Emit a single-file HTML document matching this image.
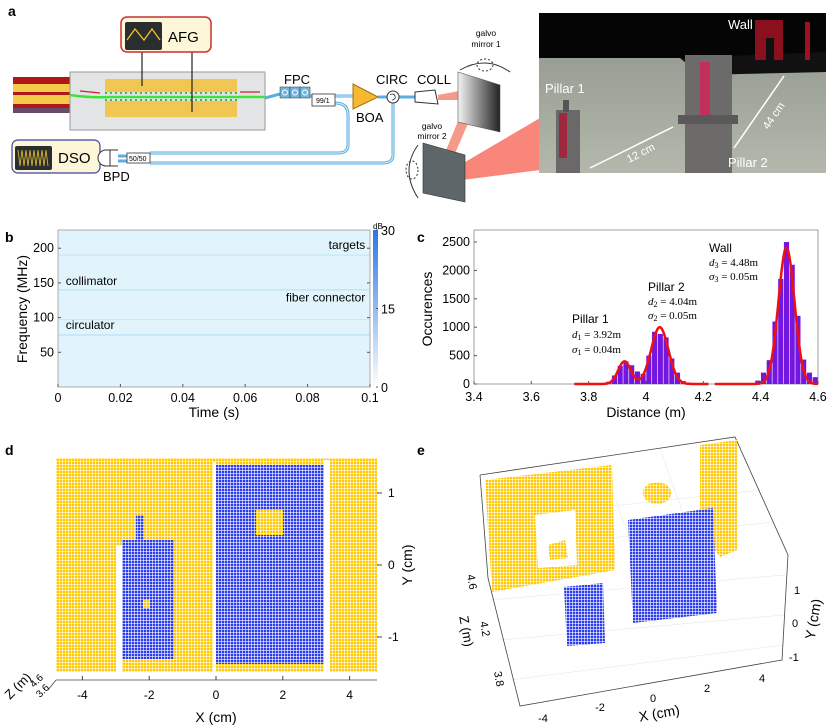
<!DOCTYPE html>
<html><head><meta charset="utf-8"><style>
html,body{margin:0;padding:0;background:#fff}
svg{display:block;font-family:"Liberation Sans",sans-serif}
</style></head><body>
<svg id="fig" width="830" height="727" viewBox="0 0 830 727" xmlns="http://www.w3.org/2000/svg">
<defs>
<linearGradient id="cbar" x1="0" y1="1" x2="0" y2="0"><stop offset="0" stop-color="#ffffff"/><stop offset="1" stop-color="#2a78e4"/></linearGradient>
<linearGradient id="mir1" x1="0" y1="0" x2="1" y2="0"><stop offset="0" stop-color="#f4f4f4"/><stop offset="1" stop-color="#222"/></linearGradient>
<linearGradient id="floor" x1="0" y1="0" x2="0" y2="1"><stop offset="0" stop-color="#8d948a"/><stop offset="1" stop-color="#b4b8ac"/></linearGradient>
<pattern id="ydots" width="3" height="3" patternUnits="userSpaceOnUse"><rect width="3" height="3" fill="#fff"/><rect width="2.4" height="2.4" fill="#ffc800"/></pattern>
<pattern id="bdots" width="3" height="3" patternUnits="userSpaceOnUse"><rect width="3" height="3" fill="#fff"/><rect width="2.4" height="2.4" fill="#2c3cf0"/></pattern>
</defs>

<text x="8" y="16" font-size="14" font-weight="bold">a</text>
<text x="5" y="242" font-size="14" font-weight="bold">b</text>
<text x="417" y="242" font-size="14" font-weight="bold">c</text>
<text x="5" y="455" font-size="14" font-weight="bold">d</text>
<text x="417" y="455" font-size="14" font-weight="bold">e</text>

<g>
  <polygon points="438,95 475,88 476,100 438,100" fill="#f59a8a"/>
  <polygon points="470,92 480,96 450,165 442,160" fill="#f59a8a"/>
  <polygon points="460,165 540,118 540,170 462,180" fill="#f8877a"/>
  <rect x="13" y="77" width="58" height="36" fill="#b01818"/>
  <rect x="13" y="84" width="58" height="8" fill="#f5c94a"/>
  <rect x="13" y="95" width="58" height="9" fill="#f5c94a"/>
  <rect x="13" y="108" width="58" height="5" fill="#6a4a6a"/>
  <rect x="70" y="72" width="195" height="58" fill="#e2e4e6" stroke="#999"/>
  <rect x="105" y="79" width="132" height="13" fill="#f2c652"/>
  <rect x="105" y="101" width="132" height="16" fill="#f2c652"/>
  <line x1="105" y1="93" x2="237" y2="93" stroke="#4caf50" stroke-width="2" stroke-dasharray="2,3"/>
  <line x1="105" y1="100" x2="237" y2="100" stroke="#4caf50" stroke-width="2" stroke-dasharray="2,3"/>
  <path d="M70 95 Q90 98 110 97 L265 97" stroke="#3ee23e" stroke-width="2.5" fill="none"/>
  <line x1="80" y1="91" x2="100" y2="93" stroke="#c22" stroke-width="1.2"/>
  <line x1="240" y1="92" x2="260" y2="92" stroke="#c22" stroke-width="1.2"/>
  <line x1="142" y1="52" x2="142" y2="86" stroke="#222" stroke-width="1.2"/>
  <line x1="192" y1="52" x2="192" y2="112" stroke="#222" stroke-width="1.2"/>
  <rect x="121" y="17" width="90" height="35" rx="6" fill="#fdf6d8" stroke="#c83030" stroke-width="1.5"/>
  <rect x="125" y="22" width="37" height="28" rx="2" fill="#2a2e2e"/>
  <polyline points="127,40 135,29 144,40 152,29 160,40" stroke="#f0c030" stroke-width="1.3" fill="none"/>
  <text x="168" y="42" font-size="15">AFG</text>
  <rect x="12" y="140" width="88" height="33" rx="6" fill="#fdf6d8" stroke="#4040a0" stroke-width="1.2"/>
  <rect x="15" y="146" width="37" height="24" rx="2" fill="#2a2e2e"/>
  <path d="M18 150 L20 166 L22 150 L24 166 L26 150 L28 166 L30 150 L32 166 L34 150 L36 166 L38 150 L40 166 L42 150 L44 166 L46 150 L48 166" stroke="#e8c030" stroke-width="0.8" fill="none"/>
  <text x="58" y="163" font-size="15">DSO</text>
  <g stroke="#5aaee0" stroke-width="3" fill="none">
    <path d="M265 98 L280 94"/>
    <path d="M310 96 L353 96"/>
    <path d="M378 97 L387 97"/><path d="M399 97 L415 97"/>
    <path d="M335 103 Q348 103 348 115 L348 145 Q348 153 338 153 L150 153"/>
    <path d="M393 103 L393 155 Q393 163 383 163 L150 163"/>
    <path d="M118 156 L127 156"/><path d="M118 161 L127 161"/>
  </g>
  <g stroke="#dff1fb" stroke-width="1" fill="none">
    <path d="M310 96 L353 96"/><path d="M335 103 Q348 103 348 115 L348 145 Q348 153 338 153 L150 153"/>
    <path d="M393 103 L393 155 Q393 163 383 163 L150 163"/>
  </g>
  <g>
    <rect x="280" y="87" width="10" height="11" fill="#6fb7e2" stroke="#333" stroke-width="0.5"/>
    <rect x="290" y="87" width="10" height="11" fill="#6fb7e2" stroke="#333" stroke-width="0.5"/>
    <rect x="300" y="87" width="10" height="11" fill="#6fb7e2" stroke="#333" stroke-width="0.5"/>
    <circle cx="285" cy="92.5" r="2.5" fill="none" stroke="#fff"/><circle cx="295" cy="92.5" r="2.5" fill="none" stroke="#fff"/><circle cx="305" cy="92.5" r="2.5" fill="none" stroke="#fff"/>
  </g>
  <text x="284" y="84" font-size="13">FPC</text>
  <rect x="312" y="94" width="23" height="12" fill="#fff" stroke="#333" stroke-width="0.8"/>
  <text x="316" y="103" font-size="7">99/1</text>
  <polygon points="353,84 378,97 353,109" fill="#f5b830" stroke="#a07010"/>
  <text x="356" y="122" font-size="13">BOA</text>
  <circle cx="393" cy="97" r="6" fill="#fff" stroke="#333"/>
  <path d="M390 95 A3 3 0 1 1 392 100" stroke="#333" fill="none" stroke-width="0.8"/>
  <text x="376" y="84" font-size="13">CIRC</text>
  <polygon points="415,92 435,90 438,104 415,102" fill="#fff" stroke="#333"/>
  <text x="417" y="84" font-size="13">COLL</text>
  <rect x="127" y="153" width="23" height="10" fill="#fff" stroke="#333" stroke-width="0.8"/>
  <text x="129" y="161" font-size="7">50/50</text>
  <path d="M110 150 L106 150 A8 8 0 0 0 106 166 L110 166 Z" fill="#fff" stroke="#333"/>
  <line x1="110" y1="150" x2="118" y2="150" stroke="#333"/><line x1="110" y1="166" x2="118" y2="166" stroke="#333"/>
  <text x="103" y="181" font-size="13">BPD</text>
  <polygon points="458,72 500,85 500,132 458,122" fill="url(#mir1)" stroke="#555" stroke-width="0.6"/>
  <text x="486" y="36" font-size="8.5" text-anchor="middle">galvo</text>
  <text x="486" y="47" font-size="8.5" text-anchor="middle">mirror 1</text>
  <path d="M460 70 Q486 55 510 72" stroke="#333" fill="none"/>
  <ellipse cx="485" cy="65" rx="8" ry="6" fill="none" stroke="#333" stroke-dasharray="2,2"/>
  <polygon points="423,143 465,155 465,202 423,193" fill="#5d6668" stroke="#333" stroke-width="0.6"/>
  <text x="432" y="129" font-size="8.5" text-anchor="middle">galvo</text>
  <text x="432" y="139" font-size="8.5" text-anchor="middle">mirror 2</text>
  <path d="M418 145 Q400 170 418 198" stroke="#333" fill="none"/>
  <ellipse cx="412" cy="170" rx="6" ry="9" fill="none" stroke="#333" stroke-dasharray="2,2"/>
  <g>
    <rect x="539" y="13" width="287" height="160" fill="url(#floor)"/>
    <rect x="539" y="13" width="287" height="45" fill="#050505"/>
    <polygon points="680,58 826,52 826,72 700,75" fill="#111"/>
    <rect x="755" y="20" width="28" height="40" fill="#8a1020"/><rect x="766" y="38" width="8" height="22" fill="#111"/>
    <rect x="805" y="22" width="5" height="38" fill="#a01020"/>
    <rect x="685" y="55" width="47" height="118" fill="#6d6b6a"/>
    <rect x="700" y="62" width="10" height="55" fill="#c0305a"/>
    <rect x="678" y="115" width="60" height="9" fill="#5a5858"/>
    <rect x="556" y="110" width="24" height="63" fill="#6a6868"/>
    <rect x="559" y="113" width="8" height="45" fill="#a0283c"/>
    <rect x="563" y="100" width="6" height="12" fill="#555"/>
  </g>
  <text x="545" y="93" font-size="13" fill="#fff">Pillar 1</text>
  <text x="728" y="29" font-size="13" fill="#fff">Wall</text>
  <text x="728" y="167" font-size="13" fill="#fff">Pillar 2</text>
  <line x1="590" y1="168" x2="673" y2="127" stroke="#fff" stroke-width="1.5"/>
  <line x1="734" y1="148" x2="784" y2="76" stroke="#fff" stroke-width="1.5"/>
  <text x="0" y="0" font-size="11" fill="#fff" transform="translate(629,163) rotate(-27)">12 cm</text>
  <text x="0" y="0" font-size="11" fill="#fff" transform="translate(768,130) rotate(-55)">44 cm</text>
</g>

<g id="panelB">
  <rect x="58" y="230" width="312" height="157" fill="#e2f4fb" stroke="#999" stroke-width="0.8"/>
  <rect x="373" y="230" width="5" height="157" fill="url(#cbar)"/>
  <text x="373" y="229" font-size="8">dB</text>
  <text x="0" y="0" font-size="14" text-anchor="middle" transform="translate(27,309) rotate(-90)">Frequency (MHz)</text>
  <text x="214" y="417" font-size="14" text-anchor="middle">Time (s)</text>
</g>

<g id="panelC">
  <rect x="474" y="230" width="344" height="154" fill="#fff" stroke="#888" stroke-width="0.8"/>
  <text x="0" y="0" font-size="14" text-anchor="middle" transform="translate(432,309) rotate(-90)">Occurences</text>
  <text x="646" y="417" font-size="14" text-anchor="middle">Distance (m)</text>
  <g font-size="12">
    <text x="572" y="323">Pillar 1</text>
    <text x="572" y="338" font-family="Liberation Serif,serif" font-size="11"><tspan font-style="italic">d</tspan><tspan font-size="8" dy="2">1</tspan><tspan dy="-2"> = 3.92m</tspan></text>
    <text x="572" y="353" font-family="Liberation Serif,serif" font-size="11"><tspan font-style="italic">σ</tspan><tspan font-size="8" dy="2">1</tspan><tspan dy="-2"> = 0.04m</tspan></text>
    <text x="648" y="291">Pillar 2</text>
    <text x="648" y="305" font-family="Liberation Serif,serif" font-size="11"><tspan font-style="italic">d</tspan><tspan font-size="8" dy="2">2</tspan><tspan dy="-2"> = 4.04m</tspan></text>
    <text x="648" y="319" font-family="Liberation Serif,serif" font-size="11"><tspan font-style="italic">σ</tspan><tspan font-size="8" dy="2">2</tspan><tspan dy="-2"> = 0.05m</tspan></text>
    <text x="709" y="252">Wall</text>
    <text x="709" y="266" font-family="Liberation Serif,serif" font-size="11"><tspan font-style="italic">d</tspan><tspan font-size="8" dy="2">3</tspan><tspan dy="-2"> = 4.48m</tspan></text>
    <text x="709" y="280" font-family="Liberation Serif,serif" font-size="11"><tspan font-style="italic">σ</tspan><tspan font-size="8" dy="2">3</tspan><tspan dy="-2"> = 0.05m</tspan></text>
  </g>
</g>

<g id="panelD">
  <rect x="56" y="458" width="321" height="214" fill="url(#ydots)"/>
  <rect x="116" y="545" width="6" height="127" fill="#fff"/>
  <rect x="122" y="540" width="52" height="119" fill="url(#bdots)"/>
  <rect x="136" y="515" width="8" height="27" fill="url(#bdots)"/>
  <rect x="143" y="600" width="7" height="8" fill="url(#ydots)"/>
  <rect x="213" y="462" width="3" height="210" fill="#fff"/>
  <rect x="216" y="465" width="108" height="199" fill="url(#bdots)"/>
  <rect x="256" y="510" width="27" height="25" fill="url(#ydots)"/>
  <rect x="324" y="460" width="6" height="212" fill="#fff"/>
  <line x1="56" y1="680" x2="377" y2="680" stroke="#444" stroke-width="0.8"/>
  <line x1="56" y1="680" x2="48" y2="690" stroke="#444" stroke-width="0.8"/>
  <text x="0" y="0" font-size="13" transform="translate(10,700) rotate(-45)">Z (m)</text>
  <text x="0" y="0" font-size="10" transform="translate(34,688) rotate(-45)">4.6</text>
  <text x="0" y="0" font-size="10" transform="translate(40,698) rotate(-45)">3.6</text>
  <text x="216" y="722" font-size="14" text-anchor="middle">X (cm)</text>
  <text x="0" y="0" font-size="14" text-anchor="middle" transform="translate(412,565) rotate(-90)">Y (cm)</text>
</g>

<g id="panelE">
  <g stroke="#e4e4e4" stroke-width="0.5">
    <line x1="483" y1="520" x2="760" y2="490"/><line x1="486" y1="550" x2="775" y2="522"/>
    <line x1="540" y1="466" x2="580" y2="572"/><line x1="600" y1="457" x2="640" y2="567"/><line x1="660" y1="448" x2="700" y2="562"/>
    <line x1="490" y1="600" x2="785" y2="575"/><line x1="500" y1="640" x2="784" y2="615"/><line x1="510" y1="680" x2="783" y2="645"/>
  </g>
  <polyline points="480,475 735,437 788,555 782,660 520,706 488,578 480,475" fill="none" stroke="#444" stroke-width="0.8"/>
  <polygon points="485,480 612,465 615,570 492,592" fill="url(#ydots)"/>
  <polygon points="535,515 575,510 577,565 538,568" fill="#fff"/>
  <polygon points="548,545 565,540 568,558 550,560" fill="url(#ydots)"/>
  <polygon points="700,445 737,440 737,550 720,557 700,530" fill="url(#ydots)"/>
  <ellipse cx="657" cy="493" rx="14" ry="11" fill="url(#ydots)"/>
  <polygon points="628,520 713,508 717,613 633,623" fill="url(#bdots)"/>
  <polygon points="564,587 603,583 605,643 567,646" fill="url(#bdots)"/>
  <g font-size="11">
    <text transform="translate(467,575) rotate(80)">4.6</text>
    <text transform="translate(480,622) rotate(80)">4.2</text>
    <text transform="translate(494,672) rotate(80)">3.8</text>
    <text transform="translate(462,632) rotate(80)" font-size="13" text-anchor="middle">Z (m)</text>
    <text x="543" y="722" text-anchor="middle">-4</text>
    <text x="600" y="711" text-anchor="middle">-2</text>
    <text x="653" y="702" text-anchor="middle">0</text>
    <text x="707" y="692" text-anchor="middle">2</text>
    <text x="762" y="682" text-anchor="middle">4</text>
    <text transform="translate(660,718) rotate(-10)" font-size="14" text-anchor="middle">X (cm)</text>
    <text x="794" y="594">1</text>
    <text x="792" y="627">0</text>
    <text x="789" y="661">-1</text>
    <text transform="translate(818,620) rotate(-80)" font-size="14" text-anchor="middle">Y (cm)</text>
  </g>
</g>
</svg>

<script>
var bFreqTicks = [50, 100, 150, 200];
var bTimeTicks = [0, 0.02, 0.04, 0.06, 0.08, 0.1];
var bTimeLabels = ["0","0.02","0.04","0.06","0.08","0.1"];
var bLineFreqs = [190, 140, 97, 75];
var bLineStrength = [0.35, 0.5, 0.25, 0.5];
var bLabels = ["targets","collimator","fiber connector","circulator"];
var bColorTicks = [0, 15, 30];
var cBinStarts = [3.86,3.88,3.90,3.92,3.94,3.96,3.98,4.00,4.02,4.04,4.06,4.08,4.10,4.12,4.38,4.40,4.42,4.44,4.46,4.48,4.50,4.52,4.54,4.56,4.58];
var cCounts    = [40,150,320,400,330,220,180,500,920,880,820,450,200,50,60,200,420,1100,1850,2500,2100,1200,430,200,120];
var cFitMeans  = [3.925, 4.048, 4.49];
var cFitSigmas = [0.022, 0.03, 0.028];
var cFitAmps   = [400, 1000, 2400];
var cYTicks = [0, 500, 1000, 1500, 2000, 2500];
var cXTicks = [3.4, 3.6, 3.8, 4.0, 4.2, 4.4, 4.6];
var cXLabels = ["3.4","3.6","3.8","4","4.2","4.4","4.6"];
var dXTicks = [-4, -2, 0, 2, 4];
var dYTicks = [-1, 0, 1];

var NS = "http://www.w3.org/2000/svg";
function mk(tag, attrs, parent, txt) {
  var e = document.createElementNS(NS, tag);
  for (var k in attrs) e.setAttribute(k, attrs[k]);
  if (txt !== undefined) e.textContent = txt;
  parent.appendChild(e); return e;
}
var gB = document.getElementById("panelB");
var gC = document.getElementById("panelC");
var gD = document.getElementById("panelD");

function bx(t){ return 58 + t/0.1*312; }
function by(f){ return 387 - f*0.694; }
bLineFreqs.forEach(function(f,i){
  var l = mk("line",{x1:58,x2:370,y1:by(f),y2:by(f),stroke:"#7cc6f0","stroke-width":1,"stroke-opacity":bLineStrength[i]},gB);
  
  
});
var bLabelPos = [[0.0985,'end',-6],[0.0025,'start',-5],[0.0985,'end',-18],[0.0025,'start',-6]];
bLabels.forEach(function(s,i){
  var t = mk("text",{x:bx(bLabelPos[i][0]),y:by(bLineFreqs[i])+bLabelPos[i][2],"font-size":12,"text-anchor":bLabelPos[i][1]},gB,s);
  
  
});
bFreqTicks.forEach(function(f){
  mk("line",{x1:58,x2:61,y1:by(f),y2:by(f),stroke:"#555"},gB);
  mk("line",{x1:367,x2:370,y1:by(f),y2:by(f),stroke:"#555"},gB);
  var t = mk("text",{x:54,y:by(f)+4,"font-size":12.5,"text-anchor":"end"},gB,String(f));
  
  
});
bTimeTicks.forEach(function(v,i){
  mk("line",{x1:bx(v),x2:bx(v),y1:387,y2:384,stroke:"#555"},gB);
  var t = mk("text",{x:bx(v),y:402,"font-size":12.5,"text-anchor":"middle"},gB,bTimeLabels[i]);
  
  
});
bColorTicks.forEach(function(v){
  var y = 387 - v/30*157;
  mk("line",{x1:376,x2:378,y1:y,y2:y,stroke:"#555"},gB);
  var t = mk("text",{x:381,y:y+5,"font-size":12.5},gB,String(v));
  
  
});

function cx(d){ return 474 + (d-3.4)/1.2*344; }
function cy(n){ return 384 - n/2500*142; }
cBinStarts.forEach(function(d,i){
  var r = mk("rect",{x:cx(d)+0.3,y:cy(cCounts[i]),width:cx(d+0.02)-cx(d)-0.6,height:384-cy(cCounts[i]),fill:"#7316e0"},gC);
  
  
});
function fit(d){ var s=0; for(var k=0;k<cFitMeans.length;k++){ var z=(d-cFitMeans[k])/cFitSigmas[k]; s+=cFitAmps[k]*Math.exp(-0.5*z*z);} return s; }
[[3.75,4.22],[4.24,4.6]].forEach(function(seg){
  var p=""; for(var d=seg[0]; d<=seg[1]+1e-9; d+=0.004){ p += (p?" L":"M")+cx(d).toFixed(1)+" "+cy(fit(d)).toFixed(1); }
  var path = mk("path",{d:p,stroke:"#f01010","stroke-width":2.5,fill:"none"},gC);
  
  
});
cYTicks.forEach(function(v){
  mk("line",{x1:474,x2:477,y1:cy(v),y2:cy(v),stroke:"#555"},gC);
  var t = mk("text",{x:470,y:cy(v)+4,"font-size":12.5,"text-anchor":"end"},gC,String(v));
  
  
});
cXTicks.forEach(function(v,i){
  mk("line",{x1:cx(v),x2:cx(v),y1:384,y2:381,stroke:"#555"},gC);
  var t = mk("text",{x:cx(v),y:401,"font-size":12.5,"text-anchor":"middle"},gC,cXLabels[i]);
  
  
});

function dx(v){ return 216 + v*33.4; }
function dy(v){ return 565 - v*72; }
dXTicks.forEach(function(v){
  mk("line",{x1:dx(v),x2:dx(v),y1:680,y2:676,stroke:"#444"},gD);
  var t = mk("text",{x:dx(v),y:699,"font-size":12,"text-anchor":"middle"},gD,String(v));
  
  
});
dYTicks.forEach(function(v){
  mk("line",{x1:377,x2:382,y1:dy(v),y2:dy(v),stroke:"#444"},gD);
  var t = mk("text",{x:388,y:dy(v)+4,"font-size":12},gD,String(v));
  
  
});
</script>
</body></html>
